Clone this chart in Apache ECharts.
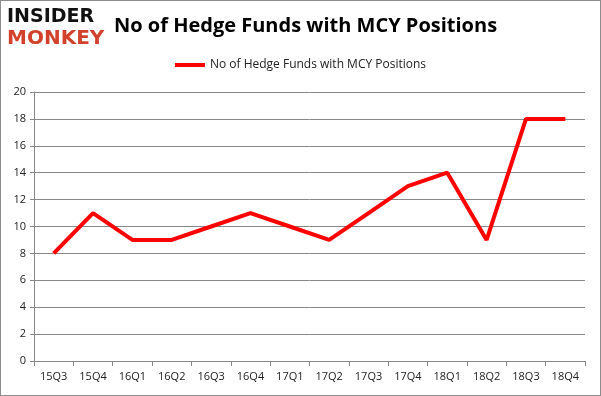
<!DOCTYPE html>
<html>
<head>
<meta charset="utf-8">
<script src="https://cdn.jsdelivr.net/npm/echarts@6/dist/echarts.min.js"></script>
<style>
  html, body { margin: 0; padding: 0; background: #fff; }
  #chart { width: 599px; height: 394px; border: 1px solid #8c8c8c; }
</style>
</head>
<body>
<div id="chart"></div>
<script>
const quarters = ['15Q3', '15Q4', '16Q1', '16Q2', '16Q3', '16Q4', '17Q1', '17Q2', '17Q3', '17Q4', '18Q1', '18Q2', '18Q3', '18Q4'];
const hedgeFunds = [8, 11, 9, 9, 10, 11, 10, 9, 11, 13, 14, 9, 18, 18];
const seriesName = 'No of Hedge Funds with MCY Positions';

const chart = echarts.init(document.getElementById('chart'));

chart.setOption({
  animation: false,
  backgroundColor: '#fff',
  title: {
    text: 'No of Hedge Funds with MCY Positions',
    left: 108,
    top: 10,
    textStyle: {
      fontFamily: 'Open Sans, Liberation Sans, sans-serif',
      fontSize: 20,
      fontWeight: 'bold',
      color: '#000'
    }
  },
  graphic: [
    {
      type: 'text',
      left: 6,
      top: 7,
      style: {
        text: 'INSIDER',
        fontFamily: 'DejaVu Sans, sans-serif',
        fontSize: 19,
        fontWeight: 'bold',
        fill: '#111'
      }
    },
    {
      type: 'text',
      left: 6,
      top: 28,
      style: {
        text: 'MONKEY',
        fontFamily: 'DejaVu Sans, sans-serif',
        fontSize: 20,
        fontWeight: 'bold',
        fill: '#d2412b'
      }
    }
  ],
  legend: {
    top: 53,
    left: 'center',
    itemWidth: 30,
    itemHeight: 4,
    icon: 'rect',
    textStyle: {
      fontFamily: 'Open Sans, Liberation Sans, sans-serif',
      fontSize: 12,
      color: '#222'
    },
    data: [seriesName]
  },
  grid: {
    left: 33,
    right: 15,
    top: 91,
    bottom: 34
  },
  xAxis: {
    type: 'category',
    data: quarters,
    boundaryGap: true,
    axisLine: { lineStyle: { color: '#888' } },
    axisTick: { show: true, alignWithLabel: false, length: 5, lineStyle: { color: '#888' } },
    axisLabel: {
      color: '#222',
      fontFamily: 'Open Sans, Liberation Sans, sans-serif',
      fontSize: 11,
      margin: 10,
      interval: 0
    }
  },
  yAxis: {
    type: 'value',
    min: 0,
    max: 20,
    interval: 2,
    axisLine: { show: true, lineStyle: { color: '#888' } },
    axisTick: { show: true, length: 4, inside: false, lineStyle: { color: '#888' } },
    splitLine: { lineStyle: { color: '#888', width: 1 } },
    axisLabel: {
      color: '#222',
      fontFamily: 'Open Sans, Liberation Sans, sans-serif',
      fontSize: 11,
      margin: 8
    }
  },
  series: [
    {
      name: seriesName,
      type: 'line',
      data: hedgeFunds,
      symbol: 'none',
      color: '#ff0000',
      lineStyle: { width: 4, color: '#ff0000' }
    }
  ]
});
</script>
</body>
</html>
